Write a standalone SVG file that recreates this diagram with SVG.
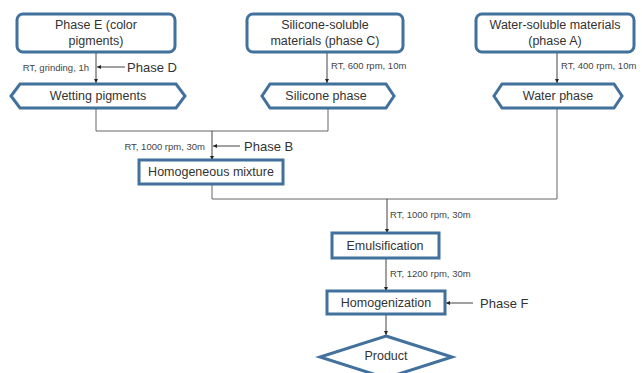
<svg xmlns="http://www.w3.org/2000/svg" width="642" height="373" viewBox="0 0 642 373">
<defs>
<marker id="ah" viewBox="0 0 6 6" refX="6" refY="3" markerWidth="4" markerHeight="4" orient="auto">
<path d="M0,0 L6,3 L0,6 z" fill="#222"/>
</marker>
<style>
.n{fill:#fff;stroke:#41719c;stroke-width:3}
.t{font-family:"Liberation Sans",Arial,sans-serif;font-size:12.5px;fill:#333;text-anchor:middle;dominant-baseline:central}
.s{font-family:"Liberation Sans",Arial,sans-serif;font-size:9.5px;fill:#444;dominant-baseline:central}
.p{font-family:"Liberation Sans",Arial,sans-serif;font-size:13px;fill:#333;dominant-baseline:central}
.c{fill:none;stroke:#666;stroke-width:1}
.a{fill:none;stroke:#444;stroke-width:1;marker-end:url(#ah)}
</style>
</defs>
<rect width="642" height="373" fill="#fff"/>
<g id="connectors">
<line class="a" x1="96" y1="52" x2="96" y2="83"/>
<line class="a" x1="125" y1="67" x2="97" y2="67"/>
<line class="a" x1="327" y1="52" x2="327" y2="83"/>
<line class="a" x1="557" y1="52" x2="557" y2="83"/>
<polyline class="c" points="96,108 96,131 328,131 328,108"/>
<line class="a" x1="212" y1="131" x2="212" y2="160"/>
<line class="a" x1="240" y1="146" x2="213" y2="146"/>
<polyline class="c" points="212,184 212,199 557,199 557,108"/>
<line class="a" x1="387" y1="199" x2="387" y2="233"/>
<line class="a" x1="386" y1="258" x2="386" y2="291"/>
<line class="a" x1="473" y1="303" x2="446" y2="303"/>
<line class="a" x1="386" y1="314" x2="386" y2="335"/>
<text class="s" x="89" y="67" text-anchor="end">RT,  grinding, 1h</text>
<text class="p" x="127" y="67">Phase D</text>
<text class="s" x="331" y="65">RT,  600 rpm, 10m</text>
<text class="s" x="561" y="65">RT,  400 rpm, 10m</text>
<text class="s" x="205" y="146" text-anchor="end">RT,  1000 rpm, 30m</text>
<text class="p" x="244" y="146">Phase B</text>
<text class="s" x="390" y="214">RT,  1000 rpm, 30m</text>
<text class="s" x="390" y="273">RT,  1200 rpm, 30m</text>
<text class="p" x="480" y="303">Phase F</text>
</g>
<g id="phaseE">
<rect class="n" x="17" y="14" width="158" height="38" rx="6"/>
<text class="t" x="96" y="25">Phase E (color</text>
<text class="t" x="96" y="41">pigments)</text>
</g>
<g id="phaseC">
<rect class="n" x="247" y="14" width="156" height="38" rx="6"/>
<text class="t" x="325" y="25">Silicone-soluble</text>
<text class="t" x="325" y="41">materials (phase C)</text>
</g>
<g id="phaseA">
<rect class="n" x="476" y="14" width="158" height="38" rx="6"/>
<text class="t" x="555" y="25">Water-soluble materials</text>
<text class="t" x="555" y="41">(phase A)</text>
</g>
<g id="wetting">
<polygon class="n" points="20,84 176,84 185,96 176,108 20,108 11,96"/>
<text class="t" x="98" y="96">Wetting pigments</text>
</g>
<g id="silicone">
<polygon class="n" points="270,84 386,84 394,96 386,108 270,108 262,96"/>
<text class="t" x="326" y="96">Silicone phase</text>
</g>
<g id="water">
<polygon class="n" points="502,84 614,84 622,96 614,108 502,108 494,96"/>
<text class="t" x="558" y="96">Water phase</text>
</g>
<g id="homogeneous">
<rect class="n" x="139" y="160" width="144" height="24"/>
<text class="t" x="211" y="172">Homogeneous mixture</text>
</g>
<g id="emulsification">
<rect class="n" x="332" y="233" width="107" height="25"/>
<text class="t" x="385" y="245.5">Emulsification</text>
</g>
<g id="homogenization">
<rect class="n" x="327" y="291" width="118" height="23"/>
<text class="t" x="386" y="302.5">Homogenization</text>
</g>
<g id="product">
<polygon class="n" points="386,336 452,357 386,378 320,357"/>
<text class="t" x="386" y="356">Product</text>
</g>
</svg>
